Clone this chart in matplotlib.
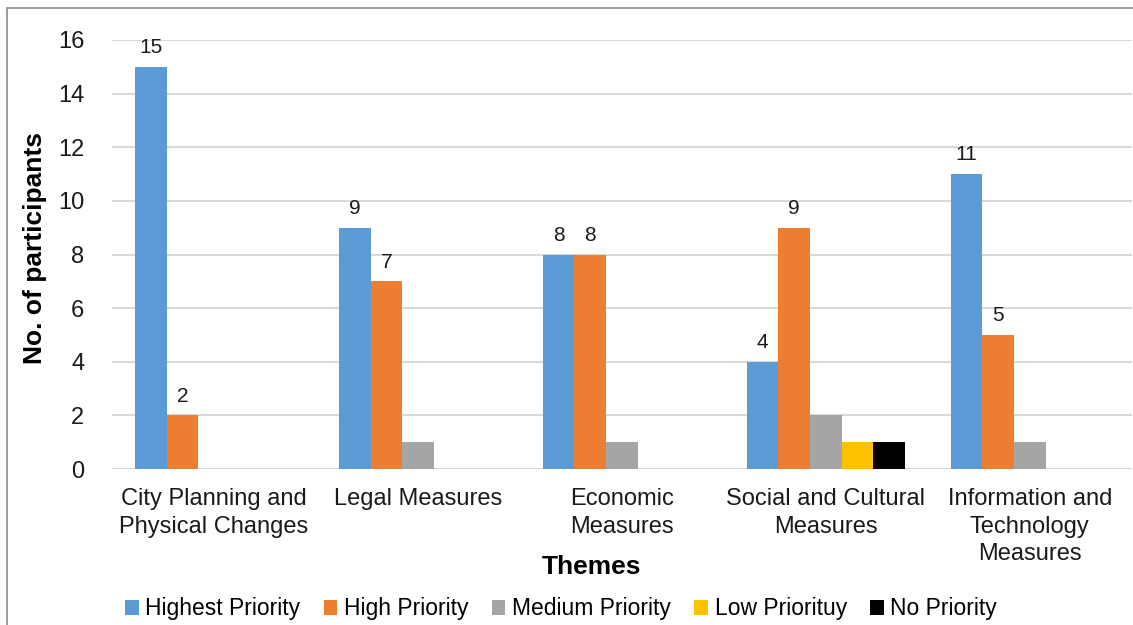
import numpy as np
import matplotlib
matplotlib.use("Agg")
import matplotlib.pyplot as plt
from matplotlib.patches import Rectangle

# -----------------------------
# Data
# -----------------------------
themes = ["City Planning and\nPhysical Changes", "Legal Measures", "Economic\nMeasures",
          "Social and Cultural\nMeasures", "Information and\nTechnology\nMeasures"]
series_names = ["Highest Priority", "High Priority", "Medium Priority", "Low Priorituy", "No Priority"]
highest = [15, 9, 8, 4, 11]
high = [2, 7, 8, 9, 5]
medium = [0, 1, 1, 2, 1]
low = [0, 0, 0, 1, 0]
no_priority = [0, 0, 0, 1, 0]
colors = ["#5B9BD5", "#ED7D31", "#A5A5A5", "#FFC000", "#000000"]
labelled = [True, True, False, False, False]

plt.rcParams['font.family'] = ['Liberation Sans', 'DejaVu Sans']

fig = plt.figure(figsize=(11.33, 6.25), dpi=100)
ax = fig.add_axes([0.0989, 0.2496, 0.9, 0.6864])

# light border round the chart area
fig.patches.append(Rectangle((7 / 1133, -0.1), 1.2, 1 - 8 / 625 + 0.1, transform=fig.transFigure,
                             fill=False, edgecolor="#8c8c8c", linewidth=1.2))

x = np.arange(len(themes))
width = 0.155
all_series = [highest, high, medium, low, no_priority]
legend_handles = []
for i, vals in enumerate(all_series):
    offs = (i - 2) * width
    bars = ax.bar(x + offs, vals, width, color=colors[i], linewidth=0, label=series_names[i], zorder=3)
    legend_handles.append(bars)
    if labelled[i]:
        for xi, v in zip(x, vals):
            if v > 0:
                ax.annotate(str(v), (xi + offs, v), xytext=(0, 7), textcoords="offset points",
                            ha="center", va="bottom", fontsize=15, color="#1a1a1a")

ax.set_xlim(-0.5, 4.5)
ax.set_ylim(0, 16)
ax.set_yticks(range(0, 17, 2))
ax.set_xticks(x)
ax.set_xticklabels(themes, fontsize=17, color="#1a1a1a", linespacing=1.3)
ax.tick_params(axis="y", labelsize=17, colors="#1a1a1a", length=0, pad=20)
ax.tick_params(axis="x", length=0, pad=14)
ax.grid(axis="y", color="#d9d9d9", linewidth=1.5, zorder=0)
for s in ax.spines.values():
    s.set_visible(False)

ax.set_ylabel("No. of participants", fontsize=19, fontweight="bold")
ax.yaxis.set_label_coords(-0.064, 0.515)
fig.text(591 / 1133, 1 - 567 / 625, "Themes", ha="center", va="center", fontsize=19, fontweight="bold")

fig.legend(handles=legend_handles, labels=series_names, loc="center",
           bbox_to_anchor=(561 / 1133, 1 - 609 / 625), ncol=5, frameon=False,
           fontsize=16.5, handlelength=0.6, handleheight=0.6, handletextpad=0.3,
           columnspacing=1.0, borderaxespad=0)

fig.savefig("out.png", dpi=100)
